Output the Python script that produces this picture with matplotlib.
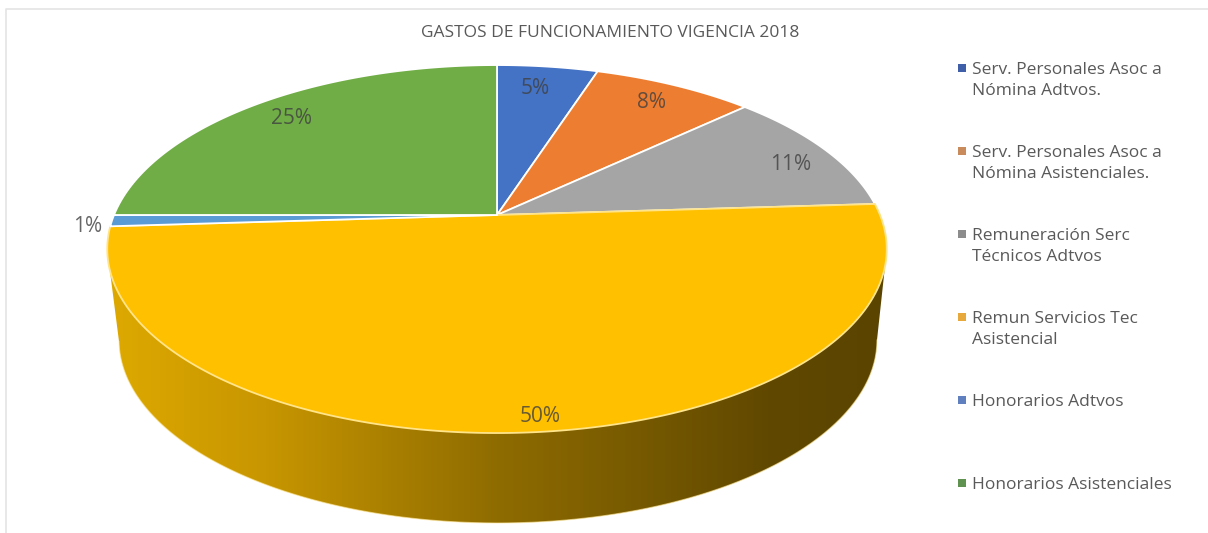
import numpy as np
import matplotlib
matplotlib.use("Agg")
import matplotlib.pyplot as plt
from matplotlib.colors import LinearSegmentedColormap
from matplotlib.patches import Polygon

plt.rcParams["font.family"] = ["Open Sans", "DejaVu Sans"]

TITLE = "GASTOS DE FUNCIONAMIENTO VIGENCIA 2018"
labels = [
    "Serv. Personales Asoc a\nNómina Adtvos.",
    "Serv. Personales Asoc a\nNómina Asistenciales.",
    "Remuneración Serc\nTécnicos Adtvos",
    "Remun Servicios Tec\nAsistencial",
    "Honorarios Adtvos",
    "Honorarios Asistenciales",
]
shares = [5, 8, 11, 50, 1, 25]
colours = ["#4472C4", "#ED7D31", "#A5A5A5", "#FFC000", "#5B9BD5", "#70AD47"]
legend_colours = ["#3F5FA8", "#C98A5C", "#8C8C8C", "#E8A93C", "#5F7FBF", "#5F9150"]

# where the data labels sit, in picture pixels
label_pos = [(535, 89), (651, 103), (791, 165), (540, 417), (88, 227), (292, 119)]

# pie geometry, the top face is a perspective view of a circle
APEX = (497, 215)
A, B, K = 177.7, 383.0, 0.185
LOW = (498, 340, 379, 183)  # lower rim ellipse


def project(theta):
    x, y = np.sin(theta), np.cos(theta)
    d = 1 + K * y
    return APEX[0] + B * x / d, APEX[1] - A * y / d


fig = plt.figure(figsize=(12.08, 5.33), dpi=100)
ax = fig.add_axes([0, 0, 1, 1])

# side of the pie: gradient clipped to the rim outline
t = np.linspace(0, 2 * np.pi, 400)
tx, ty = project(t)
lx = LOW[0] + LOW[2] * np.cos(t)
ly = LOW[1] + LOW[3] * np.sin(t)
lower = t <= np.pi
left_i = np.argmin(tx)
right_i = np.argmax(tx)
outline = np.column_stack([
    np.r_[tx[right_i], lx[lower], tx[left_i]],
    np.r_[ty[right_i], ly[lower], ty[left_i]],
])
side_cmap = LinearSegmentedColormap.from_list(
    "side",
    [(0, "#DDA900"), (0.2, "#C89600"), (0.5, "#8F6C00"), (0.85, "#604800"), (1, "#5A4400")],
)
img = ax.imshow(
    np.linspace(0, 1, 256).reshape(1, -1), cmap=side_cmap, aspect="auto",
    extent=(108, 887, 533, 200), zorder=1,
)
clip = Polygon(outline, transform=ax.transData)
img.set_clip_path(clip)
ax.plot(lx[lower], ly[lower], color="#FFE9A0", lw=0.8, alpha=0.6, zorder=1.5)

# top face
start = 0.0
total = sum(shares)
for share, colour in zip(shares, colours):
    end = start + share / total * 2 * np.pi
    th = np.linspace(start, end, max(int(share * 8), 12))
    x, y = project(th)
    ax.fill(np.r_[APEX[0], x], np.r_[APEX[1], y], facecolor=colour,
            edgecolor="#FFFFFF" if colour != "#FFC000" else "#FFE48A",
            lw=1.3, joinstyle="round", zorder=2)
    start = end

for share, pos in zip(shares, label_pos):
    ax.text(pos[0], pos[1], f"{share}%", ha="center", va="center",
            fontsize=15, color="#404040", alpha=0.8, zorder=4)

ax.text(610, 33, TITLE, ha="center", va="center", fontsize=12.5, color="#595959")

# legend
for i, (lab, colour) in enumerate(zip(labels, legend_colours)):
    y = 68 + 83 * i
    ax.scatter([962], [y], marker="s", s=30, color=colour, linewidths=0, zorder=3)
    ax.text(972, y - 6, lab, ha="left", va="top", fontsize=12.5, color="#595959",
            linespacing=1.38)

# frame of the pasted chart
ax.plot([5.5, 5.5, 1208], [533, 8.5, 8.5], color="#E4E4E4", lw=1.2, zorder=0)

ax.set_xlim(0, 1208)
ax.set_ylim(533, 0)
ax.axis("off")

fig.savefig("out.png", dpi=100)
